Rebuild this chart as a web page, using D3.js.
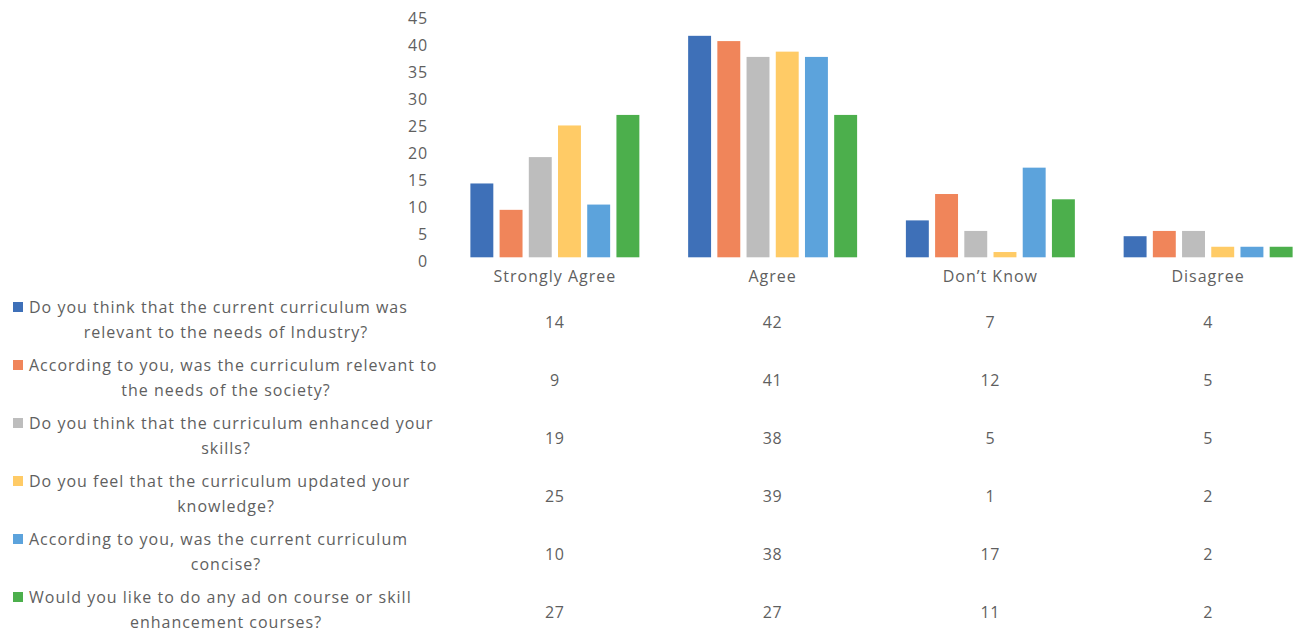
<!DOCTYPE html>
<html>
<head>
<meta charset="utf-8">
<script src="https://cdn.jsdelivr.net/npm/d3@7"></script>
<style>
  html, body { margin: 0; padding: 0; background: #fff; }
  svg { display: block; }
  text { font-family: "Open Sans", "DejaVu Sans", sans-serif; fill: #5f5f5f; }
</style>
</head>
<body>
<svg id="chart" width="1295" height="635"></svg>
<script>
const categories = ["Strongly Agree", "Agree", "Don\u2019t Know", "Disagree"];
const seriesNames = [
  ["Do you think that the current curriculum was", "relevant to the needs of Industry?"],
  ["According to you, was the curriculum relevant to", "the needs of the society?"],
  ["Do you think that the curriculum enhanced your", "skills?"],
  ["Do you feel that the curriculum updated your", "knowledge?"],
  ["According to you, was the current curriculum", "concise?"],
  ["Would you like to do any ad on course or skill", "enhancement courses?"]
];
const industry  = [14, 42, 7, 4];
const society   = [9, 41, 12, 5];
const skills    = [19, 38, 5, 5];
const knowledge = [25, 39, 1, 2];
const concise   = [10, 38, 17, 2];
const addon     = [27, 27, 11, 2];
const seriesValues = [industry, society, skills, knowledge, concise, addon];
const colors = ["#3e70b8", "#f0855a", "#bdbdbd", "#ffcb66", "#5ca3dc", "#4caf4c"];
const yTicks = [0, 5, 10, 15, 20, 25, 30, 35, 40, 45];

const svg = d3.select("#chart");

const x0 = d3.scaleBand().domain(categories).range([446, 1317]).paddingInner(0.224).paddingOuter(0.112);
const x1 = d3.scaleBand().domain(d3.range(seriesValues.length)).range([0, x0.bandwidth()]).paddingInner(0.215).paddingOuter(0);
const y = d3.scaleLinear().domain([0, 45]).range([257.3, 20]);
// tick labels in the scan sit on a slightly stretched grid
const yLabel = d3.scaleLinear().domain([0, 45]).range([261.5, 18.3]);

// y axis labels
const yAxis = d3.axisLeft(yLabel).tickValues(yTicks).tickSize(0).tickPadding(0);
const gy = svg.append("g").attr("transform", "translate(428,0)").call(yAxis);
gy.select(".domain").remove();
gy.selectAll("text").style("font-size", "16px").style("fill", "#5f5f5f")
  .style("font-family", '"Open Sans", sans-serif').attr("letter-spacing", "0.8");

// bars
const groups = svg.append("g").selectAll("g")
  .data(categories).join("g")
  .attr("transform", d => `translate(${x0(d)},0)`);
groups.selectAll("rect")
  .data((c, ci) => seriesValues.map((vals, si) => ({ si, v: vals[ci] })))
  .join("rect")
  .attr("x", d => x1(d.si))
  .attr("width", x1.bandwidth())
  .attr("y", d => y(d.v))
  .attr("height", d => y(0) - y(d.v))
  .attr("fill", d => colors[d.si]);

// category labels
const xAxis = d3.axisBottom(x0).tickSize(0).tickPadding(0);
const gx = svg.append("g").attr("transform", "translate(0,271)").call(xAxis);
gx.select(".domain").remove();
gx.selectAll("text").style("font-size", "16px").style("fill", "#5f5f5f")
  .style("font-family", '"Open Sans", sans-serif').attr("letter-spacing", "1");

// data table legend
const rowY = d3.scaleLinear().domain([0, 5]).range([322, 612]);
const rows = svg.append("g").selectAll("g").data(seriesNames).join("g");
rows.append("rect")
  .attr("x", 13).attr("width", 10).attr("height", 10)
  .attr("y", (d, i) => rowY(i) - 20)
  .attr("fill", (d, i) => colors[i]);
rows.append("text")
  .attr("x", 29).attr("y", (d, i) => rowY(i) - 9)
  .style("font-size", "16px").attr("letter-spacing", "1")
  .text(d => d[0]);
rows.append("text")
  .attr("x", 226).attr("y", (d, i) => rowY(i) + 16)
  .attr("text-anchor", "middle")
  .style("font-size", "16px").attr("letter-spacing", "1")
  .text(d => d[1]);

// values in table
seriesValues.forEach((vals, si) => {
  svg.append("g").selectAll("text").data(vals).join("text")
    .attr("x", (d, ci) => x0(categories[ci]) + x0.bandwidth() / 2)
    .attr("y", rowY(si) + 6)
    .attr("text-anchor", "middle")
    .style("font-size", "16px").attr("letter-spacing", "0.8")
    .text(d => d);
});
</script>
</body>
</html>
